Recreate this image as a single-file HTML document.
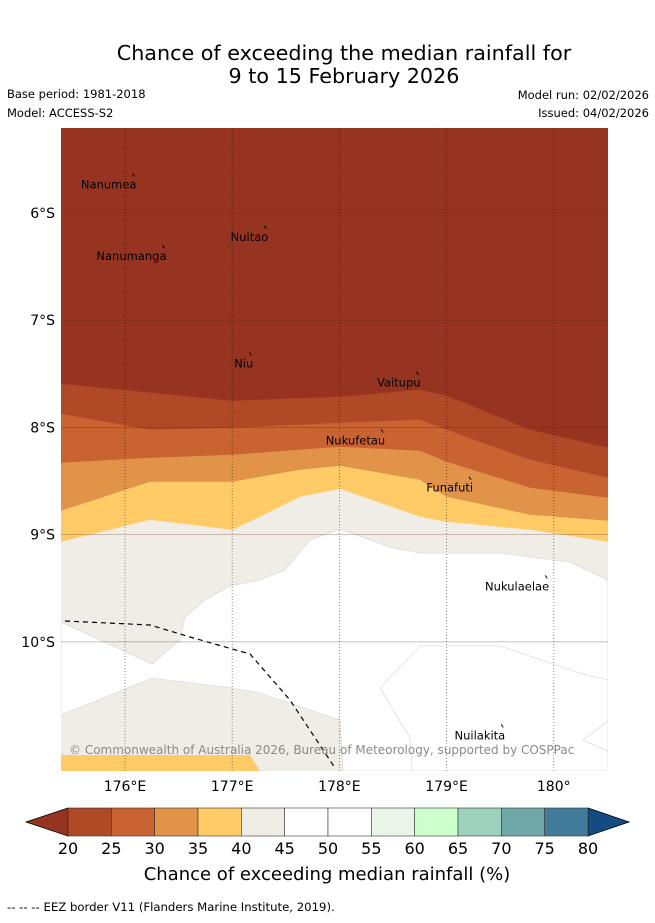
<!DOCTYPE html>
<html><head><meta charset="utf-8"><style>
body{margin:0;background:#fff;font-family:"DejaVu Sans",sans-serif;}
</style></head><body>
<svg width="655" height="919" xmlns="http://www.w3.org/2000/svg" id="chart" font-family="DejaVu Sans, sans-serif">
<text x="344" y="60" font-size="20.7" text-anchor="middle">Chance of exceeding the median rainfall for</text>
<text x="344" y="83" font-size="20.7" text-anchor="middle">9 to 15 February 2026</text>
<text x="7" y="98" font-size="11.5">Base period: 1981-2018</text>
<text x="7" y="117" font-size="11.5">Model: ACCESS-S2</text>
<text x="649" y="99" font-size="11.5" text-anchor="end">Model run: 02/02/2026</text>
<text x="649" y="117" font-size="11.5" text-anchor="end">Issued: 04/02/2026</text>
<defs><clipPath id="mc"><rect x="61" y="128" width="547" height="643"/></clipPath></defs>
<g id="map" clip-path="url(#mc)"></g>
<g id="axes"></g>
<g id="cbar"></g>
<text x="327" y="880" font-size="18" text-anchor="middle">Chance of exceeding median rainfall (%)</text>
<text x="7" y="911" font-size="11.7">-- -- -- EEZ border V11 (Flanders Marine Institute, 2019).</text>
</svg>
<script>
const NS="http://www.w3.org/2000/svg";
const lonMin=175.403, lonMax=180.506, latTop=-5.207, latBot=-11.205;
const lonTicks=[176,177,178,179,180];
const lonTickLabels=["176°E","177°E","178°E","179°E","180°"];
const latTicks=[-6,-7,-8,-9,-10];
const latTickLabels=["6°S","7°S","8°S","9°S","10°S"];
const b1Lon=[175.403,176.998,178.006,178.752,179.0,179.78,180.506];
const b1Lat=[-7.595,-7.754,-7.716,-7.651,-7.707,-8.024,-8.192];
const b2Lon=[175.403,176.233,176.998,178.006,178.752,179.0,179.78,180.506];
const b2Lat=[-7.875,-8.024,-8.006,-7.959,-7.931,-8.024,-8.304,-8.472];
const b3Lon=[175.403,176.233,176.998,178.006,178.752,179.0,179.78,180.506];
const b3Lat=[-8.332,-8.285,-8.257,-8.183,-8.220,-8.323,-8.565,-8.659];
const b4Lon=[175.403,176.233,176.998,177.633,178.006,178.752,179.0,179.78,180.506];
const b4Lat=[-8.780,-8.509,-8.509,-8.397,-8.360,-8.491,-8.649,-8.817,-8.873];
const b5Lon=[175.403,176.233,176.998,177.259,177.633,178.006,178.752,179.0,179.78,180.506];
const b5Lat=[-9.069,-8.864,-8.957,-8.836,-8.649,-8.575,-8.836,-8.882,-8.957,-9.069];
const whiteLon=[180.506,180.151,179.498,178.752,178.472,178.006,177.726,177.493,177.259,176.979,176.746,176.560,176.513,176.252,175.403,175.403,176.252,176.998,177.259,178.006,178.034,180.506];
const whiteLat=[-9.424,-9.256,-9.172,-9.172,-9.116,-8.948,-9.050,-9.330,-9.424,-9.479,-9.610,-9.769,-9.983,-10.207,-9.815,-10.683,-10.338,-10.431,-10.478,-10.729,-11.205,-11.205];
const yelLon=[175.403,177.166,177.259,175.403];
const yelLat=[-11.056,-11.056,-11.205,-11.205];
const eezLon=[175.44,176.233,176.606,177.166,177.539,177.959];
const eezLat=[-9.806,-9.843,-9.955,-10.114,-10.543,-11.177];
const c1Lon=[178.752,179.498,180.244,180.506];const c1Lat=[-10.039,-10.039,-10.291,-10.356];
const c2Lon=[178.752,178.379,178.659,178.678];const c2Lat=[-10.039,-10.431,-10.897,-11.205];
const c3Lon=[180.506,180.272,180.506];const c3Lat=[-10.739,-10.916,-11.019];
const islands=["Nanumea","Nuitao","Nanumanga","Niu","Vaitupu","Nukufetau","Funafuti","Nukulaelae","Nuilakita"];
const islLon=[176.07,177.30,176.35,177.16,178.72,178.39,179.21,179.92,179.51];
const islLat=[-5.63,-6.12,-6.30,-7.30,-7.48,-8.02,-8.46,-9.38,-10.77];
const cbLevels=[20,25,30,35,40,45,50,55,60,65,70,75,80];
const cbColors=["#b04a26","#c96332","#e09349","#fecb66","#f0ece6","#ffffff","#ffffff","#eaf5ea","#ccffcc","#9dd1bb","#70a7a9","#427a99"];
const X=lon=>61+(lon-lonMin)/(lonMax-lonMin)*547;
const Y=lat=>128+(latTop-lat)/(latTop-latBot)*643;
const map=document.getElementById('map'),axes=document.getElementById('axes'),cb=document.getElementById('cbar');
function mk(tag,attrs,parent){const e=document.createElementNS(NS,tag);for(const k in attrs)e.setAttribute(k,attrs[k]);parent.appendChild(e);return e;}
function pts(lo,la){return lo.map((v,i)=>X(v).toFixed(1)+","+Y(la[i]).toFixed(1)).join(" ");}
let r=mk('rect',{x:61,y:128,width:547,height:643,fill:'#963321'},map);


const bands=[[b1Lon,b1Lat,'#b04a26','band-20-25'],[b2Lon,b2Lat,'#c96332','band-25-30'],[b3Lon,b3Lat,'#e09349','band-30-35'],[b4Lon,b4Lat,'#fecb66','band-35-40'],[b5Lon,b5Lat,'#f0ece6','band-40-45']];
bands.forEach(b=>{const p=pts(b[0],b[1])+" "+X(lonMax)+","+Y(latBot)+" "+X(lonMin)+","+Y(latBot);
 const e=mk('polygon',{points:p,fill:b[2],stroke:b[2],'stroke-width':0.5},map);
 
 });
let w=mk('polygon',{points:pts(whiteLon,whiteLat),fill:'#ffffff',stroke:'#ddd','stroke-width':0.8},map);


let yb=mk('polygon',{points:pts(yelLon,yelLat),fill:'#fecb66'},map);


[[c1Lon,c1Lat],[c2Lon,c2Lat],[c3Lon,c3Lat]].forEach(c=>{const e=mk('polyline',{points:pts(c[0],c[1]),fill:'none',stroke:'#ddd','stroke-width':0.8},map);
 
 });
lonTicks.forEach((t,i)=>{const x=X(t);
 const g=mk('line',{x1:x,x2:x,y1:128,y2:771,stroke:'rgba(0,0,0,0.55)','stroke-width':0.8,'stroke-dasharray':'1,2'},map);
 
 
 const l=mk('text',{x:x,y:791,'font-size':14,'text-anchor':'middle'},axes);l.textContent=lonTickLabels[i];
 
 });
latTicks.forEach((t,i)=>{const y=Y(t);
 const g=mk('line',{x1:61,x2:608,y1:y,y2:y,stroke:'rgba(90,40,20,0.35)','stroke-width':0.8},map);
 
 
 const l=mk('text',{x:55,y:y+5,'font-size':14,'text-anchor':'end'},axes);l.textContent=latTickLabels[i];
 
 });
let ez=mk('polyline',{points:pts(eezLon,eezLat),fill:'none',stroke:'#000','stroke-width':1.2,'stroke-dasharray':'5,4'},map);


islands.forEach((n,i)=>{const x=X(islLon[i]),y=Y(islLat[i]);
 const m=mk('line',{x1:x,y1:y,x2:x+2,y2:y+3,stroke:'#000','stroke-width':1},map);
 
 
 const t=mk('text',{x:x+4,y:y+15,'font-size':11.5,'text-anchor':'end'},map);t.textContent=n;
 
 });
let cp=mk('text',{x:69,y:754,'font-size':12,fill:'#8a8a8a'},map);
cp.textContent="© Commonwealth of Australia 2026, Bureau of Meteorology, supported by COSPPac";


const cx0=68,cx1=588,cy0=808,cy1=836,step=(cx1-cx0)/cbColors.length;
let la=mk('polygon',{points:`${cx0},${cy0} 26,822 ${cx0},${cy1}`,fill:'#963321',stroke:'#000','stroke-width':0.8},cb);


let ra=mk('polygon',{points:`${cx1},${cy0} 629,822 ${cx1},${cy1}`,fill:'#134b82',stroke:'#000','stroke-width':0.8},cb);


cbColors.forEach((c,i)=>{const e=mk('rect',{x:cx0+i*step,y:cy0,width:step,height:cy1-cy0,fill:c,stroke:'#333','stroke-width':0.6},cb);
 
 });
cbLevels.forEach((v,i)=>{const t=mk('text',{x:cx0+i*step,y:854,'font-size':16,'text-anchor':'middle'},cb);t.textContent=v;
 
 });
</script>
</body></html>
